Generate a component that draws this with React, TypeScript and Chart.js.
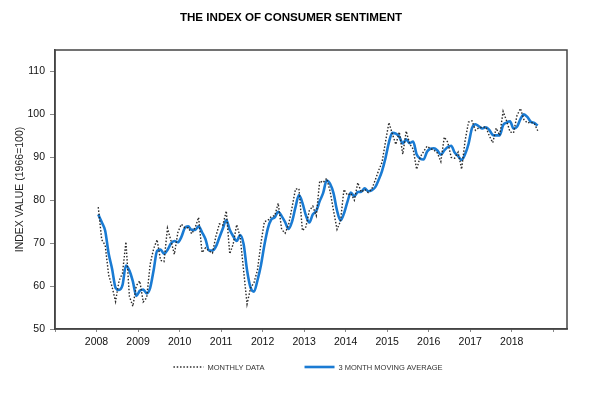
import React, { useEffect, useRef } from 'react';
import { Chart, registerables } from 'chart.js';

Chart.register(...registerables);

const TITLE = 'THE INDEX OF CONSUMER SENTIMENT';
const Y_TITLE = 'INDEX VALUE (1966=100)';
const SERIES_NAMES = ['MONTHLY DATA', '3 MONTH MOVING AVERAGE'];
const START_YEAR = 2008;
const YEAR_LABELS = ['2008', '2009', '2010', '2011', '2012', '2013', '2014', '2015', '2016', '2017', '2018'];

// Monthly values, Jan 2008 .. Aug 2018
const MONTHLY = [
  78.4, 70.8, 69.5, 62.6, 59.8, 56.4, 61.2, 63.0, 70.3, 57.6, 55.3, 60.1,
  61.2, 56.3, 57.3, 65.1, 68.7, 70.8, 66.0, 65.7, 73.5, 70.6, 67.4, 72.5,
  74.4, 73.6, 73.6, 72.2, 73.6, 76.0, 67.8, 68.9, 68.2, 67.7, 71.6, 74.5,
  74.2, 77.5, 67.5, 69.8, 74.3, 71.5, 63.7, 55.8, 59.5, 60.8, 63.7, 69.9,
  75.0, 75.3, 76.2, 76.4, 79.3, 73.2, 72.3, 74.3, 78.3, 82.6, 82.7, 72.9,
  73.8, 77.6, 78.6, 76.4, 84.5, 84.1, 85.1, 82.1, 77.5, 73.2, 75.1, 82.5,
  81.2, 81.6, 80.0, 84.1, 81.9, 82.5, 81.8, 82.5, 84.6, 86.9, 88.8, 93.6,
  98.1, 95.4, 93.0, 95.9, 90.7, 96.1, 93.1, 91.9, 87.2, 90.0, 91.3, 92.6,
  92.0, 91.7, 91.0, 89.0, 94.7, 93.5, 90.0, 89.8, 91.2, 87.2, 93.8, 98.2,
  98.5, 96.3, 96.9, 97.0, 97.1, 95.0, 93.4, 96.8, 95.1, 100.7, 98.5, 95.9,
  95.7, 99.7, 101.4, 98.8, 98.0, 98.2, 97.9, 96.2,
];

// 3 month moving average, Jan 2008 .. Aug 2018
const MOVING_AVG = [
  76.7, 74.9, 72.9, 67.6, 64.0, 59.6, 59.1, 60.2, 64.8, 63.6, 61.1, 57.7,
  58.9, 59.2, 58.3, 59.6, 63.7, 68.2, 68.5, 67.5, 68.4, 69.9, 70.5, 70.2,
  71.4, 73.5, 73.9, 73.1, 73.1, 73.9, 72.5, 70.9, 68.3, 68.3, 69.2, 71.3,
  73.4, 75.4, 73.1, 71.6, 70.5, 71.9, 69.8, 63.7, 59.7, 58.7, 61.3, 64.8,
  69.5, 73.4, 75.5, 76.0, 77.3, 76.3, 74.9, 73.3, 75.0, 78.4, 81.2, 79.4,
  76.5, 74.8, 76.7, 77.5, 79.8, 81.7, 84.6, 83.8, 81.6, 77.6, 75.3, 76.9,
  79.6, 81.8, 80.9, 81.9, 82.0, 82.8, 82.1, 82.3, 83.0, 84.7, 86.8, 89.8,
  93.5, 95.7, 95.5, 94.8, 93.2, 94.2, 93.3, 93.7, 90.7, 89.7, 89.5, 91.3,
  92.0, 92.1, 91.6, 90.6, 91.6, 92.4, 92.7, 91.1, 90.3, 89.4, 90.7, 93.1,
  96.8, 97.7, 97.2, 96.7, 97.0, 96.4, 95.2, 95.1, 95.1, 97.5, 98.1, 98.4,
  96.7, 97.1, 98.9, 100.0, 99.4, 98.3, 98.0, 97.4,
];

const Y_MIN = 50;
const Y_MAX = 115;
const Y_STEP = 10;
const X_MIN = 2007;
const X_MAX = 2019.33;

const FONT = "'Liberation Sans', Arial, Helvetica, sans-serif";
const BLUE = '#1a7bd3';
const DOT = '#2a2a2a';

const toPoints = (vals: number[]) =>
  vals.map((v, i) => ({ x: START_YEAR + (i + 0.5) / 12, y: v }));

const decorPlugin = {
  id: 'decor',
  afterDraw(chart: any) {
    const { ctx, chartArea } = chart;
    ctx.save();
    // frame
    ctx.strokeStyle = '#444';
    ctx.lineWidth = 1.5;
    ctx.setLineDash([]);
    ctx.strokeRect(chartArea.left, chartArea.top, chartArea.right - chartArea.left, chartArea.bottom - chartArea.top);
    // title
    ctx.fillStyle = '#000';
    ctx.font = `bold 11.6px ${FONT}`;
    ctx.textAlign = 'center';
    ctx.textBaseline = 'middle';
    ctx.fillText(TITLE, 291, 18);
    // legend
    ctx.font = `7.5px ${FONT}`;
    ctx.textAlign = 'left';
    const w1 = ctx.measureText(SERIES_NAMES[0]).width;
    const w2 = ctx.measureText(SERIES_NAMES[1]).width;
    const lineW = 30;
    const gapT = 4;
    const gap = 40;
    const total = lineW + gapT + w1 + gap + lineW + gapT + w2;
    let x = 308 - total / 2;
    const y = 367;
    const ds = chart.data.datasets;
    const items = [
      { w: w1, ds: ds[0], text: SERIES_NAMES[0] },
      { w: w2, ds: ds[1], text: SERIES_NAMES[1] },
    ];
    items.forEach((it) => {
      ctx.beginPath();
      ctx.strokeStyle = it.ds.borderColor;
      ctx.lineWidth = it.ds.borderWidth;
      ctx.setLineDash(it.ds.borderDash || []);
      ctx.moveTo(x, y);
      ctx.lineTo(x + lineW, y);
      ctx.stroke();
      ctx.setLineDash([]);
      ctx.fillStyle = '#333';
      ctx.fillText(it.text, x + lineW + gapT, y + 0.5);
      x += lineW + gapT + it.w + gap;
    });
    ctx.restore();
  },
};

export default function App() {
  const ref = useRef<HTMLCanvasElement>(null);

  useEffect(() => {
    if (!ref.current) return;
    const chart = new Chart(ref.current, {
      type: 'line',
      data: {
        datasets: [
          {
            label: SERIES_NAMES[0],
            data: toPoints(MONTHLY),
            borderColor: DOT,
            borderWidth: 1.4,
            borderDash: [1.5, 1.8],
            pointRadius: 0,
            tension: 0,
            fill: false,
          },
          {
            label: SERIES_NAMES[1],
            data: toPoints(MOVING_AVG),
            borderColor: BLUE,
            borderWidth: 2.6,
            pointRadius: 0,
            cubicInterpolationMode: 'monotone',
            fill: false,
          },
        ],
      },
      options: {
        responsive: false,
        animation: false,
        events: [],
        layout: { padding: { left: 0, top: 50, right: 49, bottom: 0 } },
        plugins: {
          legend: { display: false },
          title: { display: false },
          tooltip: { enabled: false },
        },
        scales: {
          x: {
            type: 'linear',
            min: X_MIN,
            max: X_MAX,
            afterFit: (s: any) => { s.height = 67; },
            grid: {
              drawOnChartArea: false,
              drawTicks: true,
              tickLength: 3,
              color: '#888',
            },
            border: { display: true, color: '#444', width: 1.5 },
            ticks: {
              stepSize: 1,
              includeBounds: false,
              autoSkip: false,
              maxRotation: 0,
              padding: 4,
              color: '#111',
              font: { family: FONT, size: 10.5 },
              callback: (v: any) => {
                const s = String(v);
                return YEAR_LABELS.includes(s) ? s : '';
              },
            },
          },
          y: {
            min: Y_MIN,
            max: Y_MAX,
            afterFit: (s: any) => { s.width = 55; },
            grid: {
              drawOnChartArea: false,
              drawTicks: true,
              tickLength: 5,
              color: '#888',
            },
            border: { display: true, color: '#444', width: 1.5 },
            ticks: {
              stepSize: Y_STEP,
              includeBounds: false,
              padding: 5,
              color: '#111',
              font: { family: FONT, size: 10.5 },
            },
            title: {
              display: true,
              text: Y_TITLE,
              color: '#222',
              font: { family: FONT, size: 10.5 },
              padding: { top: 14, bottom: 0 },
            },
          },
        },
      },
      plugins: [decorPlugin],
    } as any);
    return () => chart.destroy();
  }, []);

  return (
    <div style={{ position: 'fixed', left: 0, top: 0, width: 616, height: 396, background: '#fff' }}>
      <canvas ref={ref} width={616} height={396} style={{ display: 'block', width: 616, height: 396 }} />
    </div>
  );
}
